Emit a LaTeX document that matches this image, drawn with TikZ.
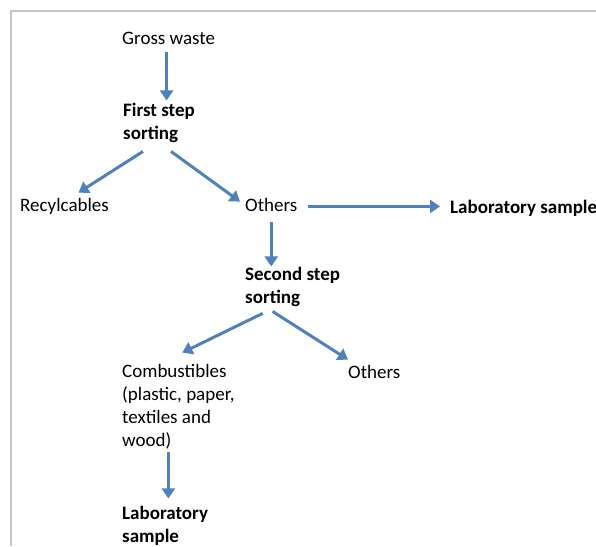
\documentclass[tikz,border=0pt]{standalone}
\usepackage{fontspec}
\setmainfont{Carlito}
\usetikzlibrary{arrows.meta, positioning}
\definecolor{flowblue}{RGB}{79,129,189}

\begin{document}
\begin{tikzpicture}[x=1pt,y=1pt,
  lbl/.style={anchor=base west,inner sep=0pt,align=left,font=\fontsize{19}{23}\selectfont},
  blbl/.style={lbl,font=\fontsize{19}{23}\selectfont\bfseries},
  flow/.style={flowblue,line width=3pt,-{Triangle[width=13pt,length=10pt]}}]
\useasboundingbox (0,0) rectangle (596,-546);
\draw[gray!45,line width=2pt] (11,-546) -- (11,-11) -- (596,-11);
\node[lbl] (gross) at (122,-44) {Gross waste};
\node[blbl] (first) at (123,-139) {First step\\sorting};
\node[lbl] (recyc) at (20,-211) {Recylcables};
\node[lbl] (others) at (245,-211) {Others};
\node[blbl] (lab) at (450,-213) {Laboratory sample};
\node[blbl] (second) at (245,-303) {Second step\\sorting};
\node[lbl] (comb) at (122,-446) {Combustibles\\(plastic, paper,\\textiles and\\wood)};
\node[lbl] (rest) at (348,-378) {Others};
\node[blbl] (lab2) at (122,-542) {Laboratory\\sample};
\draw[flow,shorten <=8pt] ([xshift=-2pt]gross.south) -- ([xshift=-2pt,yshift=2pt]gross.south |- first.north);
\draw[flow] ([shift={(-16pt,-9pt)}]first.south) -- ([shift={(14pt,5pt)}]recyc.north);
\draw[flow] ([shift={(12pt,-9pt)}]first.south) -- ([shift={(-5pt,-4pt)}]others.north west);
\draw[flow,shorten <=10pt,shorten >=10pt] ([yshift=-2pt]others.east) -- ([yshift=-2pt]others.east -| lab.west);
\draw[flow,shorten <=11pt] (others.south) -- (others.south |- second.north);
\draw[flow] ([shift={(-30pt,-7pt)}]second.south) -- ([shift={(4pt,11pt)}]comb.north);
\draw[flow] ([shift={(-20pt,-5pt)}]second.south) -- ([shift={(0pt,5pt)}]rest.north west);
\draw[flow,shorten <=3pt] ([xshift=-10pt]comb.south) -- ([xshift=-10pt,yshift=7pt]comb.south |- lab2.north);
\end{tikzpicture}
\end{document}
